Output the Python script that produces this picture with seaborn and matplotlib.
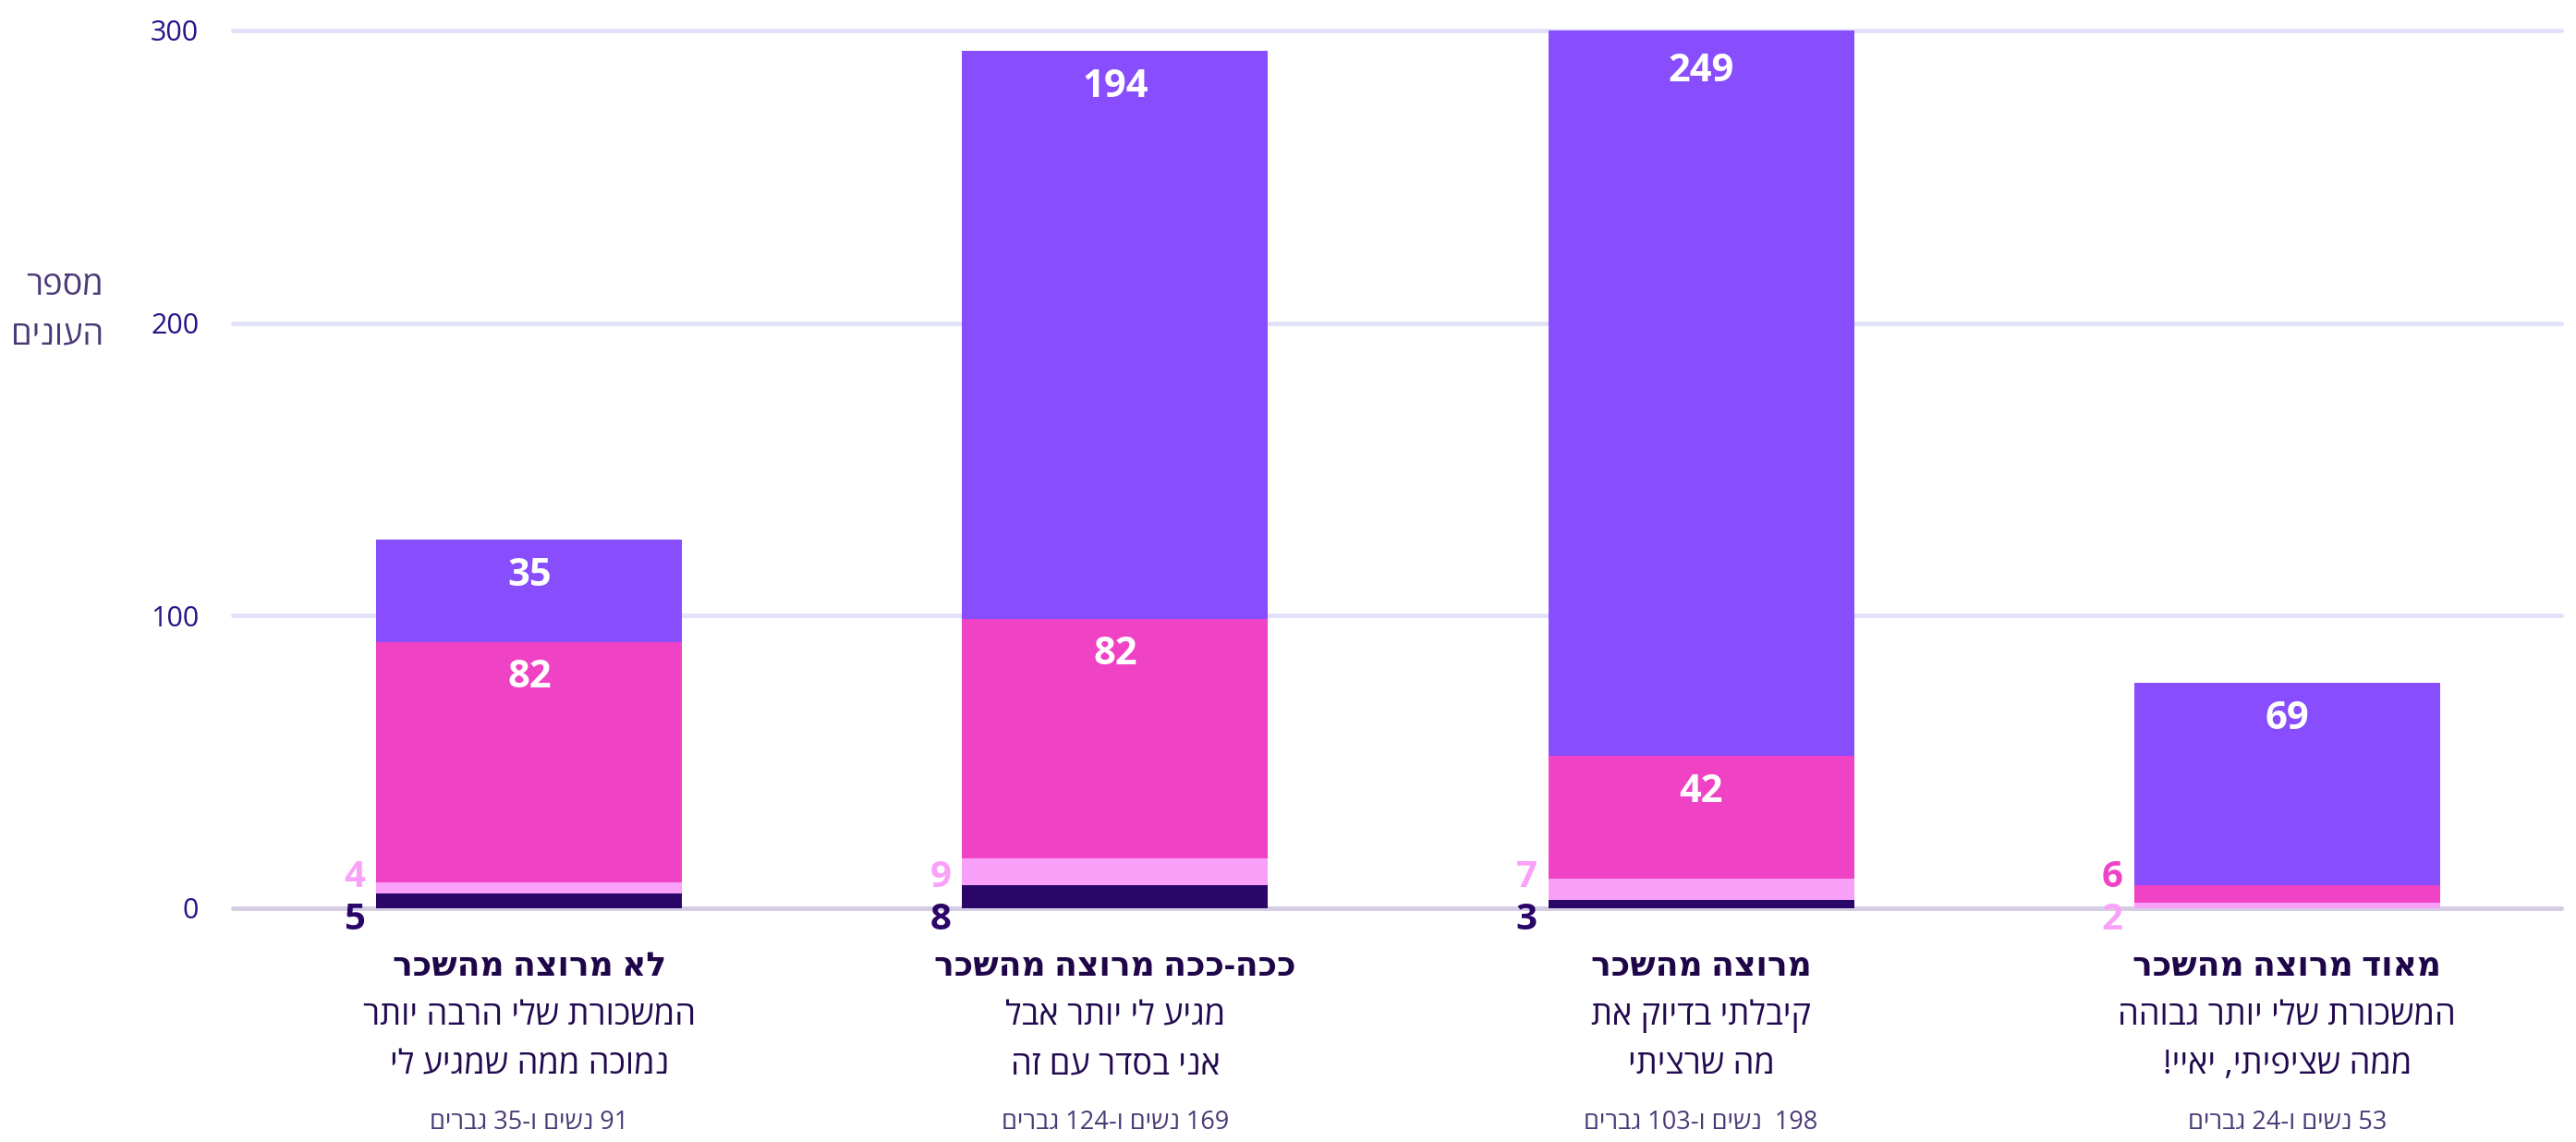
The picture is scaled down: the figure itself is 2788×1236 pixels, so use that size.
import re
import numpy as np
import pandas as pd
import seaborn as sns
import matplotlib.pyplot as plt

# DATA
titles = ['לא מרוצה מהשכר', 'ככה-ככה מרוצה מהשכר', 'מרוצה מהשכר', 'מאוד מרוצה מהשכר']
desc_line1 = ['המשכורת שלי הרבה יותר', 'מגיע לי יותר אבל', 'קיבלתי בדיוק את', 'המשכורת שלי יותר גבוהה']
desc_line2 = ['נמוכה ממה שמגיע לי', 'אני בסדר עם זה', 'מה שרציתי', 'ממה שציפיתי, יאיי!']
footnotes = ['91 נשים ו-35 גברים', '169 נשים ו-124 גברים', '198  נשים ו-103 גברים', '53 נשים ו-24 גברים']

# stacked from the bottom up
navy_vals = [5, 8, 3, 0]
pink_vals = [4, 9, 7, 2]
magenta_vals = [82, 82, 42, 6]
purple_vals = [35, 194, 249, 69]

y_ticks = [0, 100, 200, 300]
y_label = ['מספר', 'העונים']

NAVY = '#2a0668'
PINK = '#f9a1f9'
MAGENTA = '#ef42c4'
PURPLE = '#884dfc'


def visual(s):
    # matplotlib has no bidi: flip hebrew, keep numbers readable
    r = s[::-1]
    return re.sub(r'\d+', lambda m: m.group(0)[::-1], r)


W, H = 2788, 1236
sns.set_theme(style='white')
plt.rcParams['font.family'] = ['Open Sans', 'DejaVu Sans']

fig = plt.figure(figsize=(W / 100, H / 100), dpi=100)
ax = fig.add_axes([252 / W, (H - 983) / H, 2520 / W, (983 - 33) / H])

layers = [('navy', navy_vals, NAVY), ('pink', pink_vals, PINK),
          ('magenta', magenta_vals, MAGENTA), ('purple', purple_vals, PURPLE)]
cum = np.zeros(len(titles))
cums = []
for name, vals, color in layers:
    cum = cum + np.array(vals)
    cums.append(cum.copy())

df = pd.DataFrame({'cat': list(range(len(titles)))})
bar_w = 0.522
y_max = 300
# draw totals first, then partial sums over them
for (name, vals, color), c in reversed(list(zip(layers, cums))):
    df['v'] = c
    sns.barplot(data=df, x='cat', y='v', color=color, width=bar_w, ax=ax,
                saturation=1, linewidth=0, zorder=3)

ax.set_ylim(0, y_max)
ax.set_xlim(-0.506, 3.468)
ax.grid(False)
for t in y_ticks:
    ax.axhline(t, color='#d3cce3' if t == 0 else '#e1e1f9', lw=3.5, zorder=1, clip_on=False)
sns.despine(ax=ax, left=True, bottom=True)
ax.set_xticks([])
ax.set_yticks(y_ticks)
ax.set_yticklabels([str(t) for t in y_ticks], fontsize=22, color='#2a1488')
ax.tick_params(axis='y', length=0, pad=26.5)
ax.set_xlabel('')
ax.set_ylabel('')

# value labels
for i in range(len(titles)):
    small = []
    for (name, vals, color), c in zip(layers, cums):
        v = vals[i]
        if v == 0:
            continue
        if v < 10:
            small.append((v, color))
        else:
            top = min(c[i], y_max)
            dy = -44 if c[i] > y_max else -39
            ax.annotate(str(v), xy=(i, top), xytext=(0, dy), textcoords='offset pixels',
                        ha='center', va='center', fontsize=30, fontweight='bold',
                        color='white', zorder=5, annotation_clip=False)
    offs = [-12, 33]
    for (v, color), dy in zip(small, offs):
        ax.annotate(str(v), xy=(i - bar_w / 2, 0), xytext=(-12, dy), textcoords='offset pixels',
                    ha='right', va='center', fontsize=29, fontweight='bold',
                    color=color, annotation_clip=False)

# category labels under the bars
for i in range(len(titles)):
    kw = dict(xy=(i, 0), textcoords='offset pixels', ha='center', va='center', annotation_clip=False)
    ax.annotate(visual(titles[i]), xytext=(0, -64), fontsize=26, fontweight='bold', color='#1e0648', **kw)
    ax.annotate(visual(desc_line1[i]), xytext=(0, -117), fontsize=26, color='#220a50', **kw)
    ax.annotate(visual(desc_line2[i]), xytext=(0, -170), fontsize=26, color='#220a50', **kw)
    ax.annotate(visual(footnotes[i]), xytext=(0, -232), fontsize=19.5, color='#4a3a76', **kw)

# y label, two lines
fig.text(112 / W, 1 - 310 / H, visual(y_label[0]), ha='right', va='center', fontsize=26, color='#4b3a78')
fig.text(112 / W, 1 - 363 / H, visual(y_label[1]), ha='right', va='center', fontsize=26, color='#4b3a78')

fig.savefig('out.png', dpi=100, facecolor='white')
